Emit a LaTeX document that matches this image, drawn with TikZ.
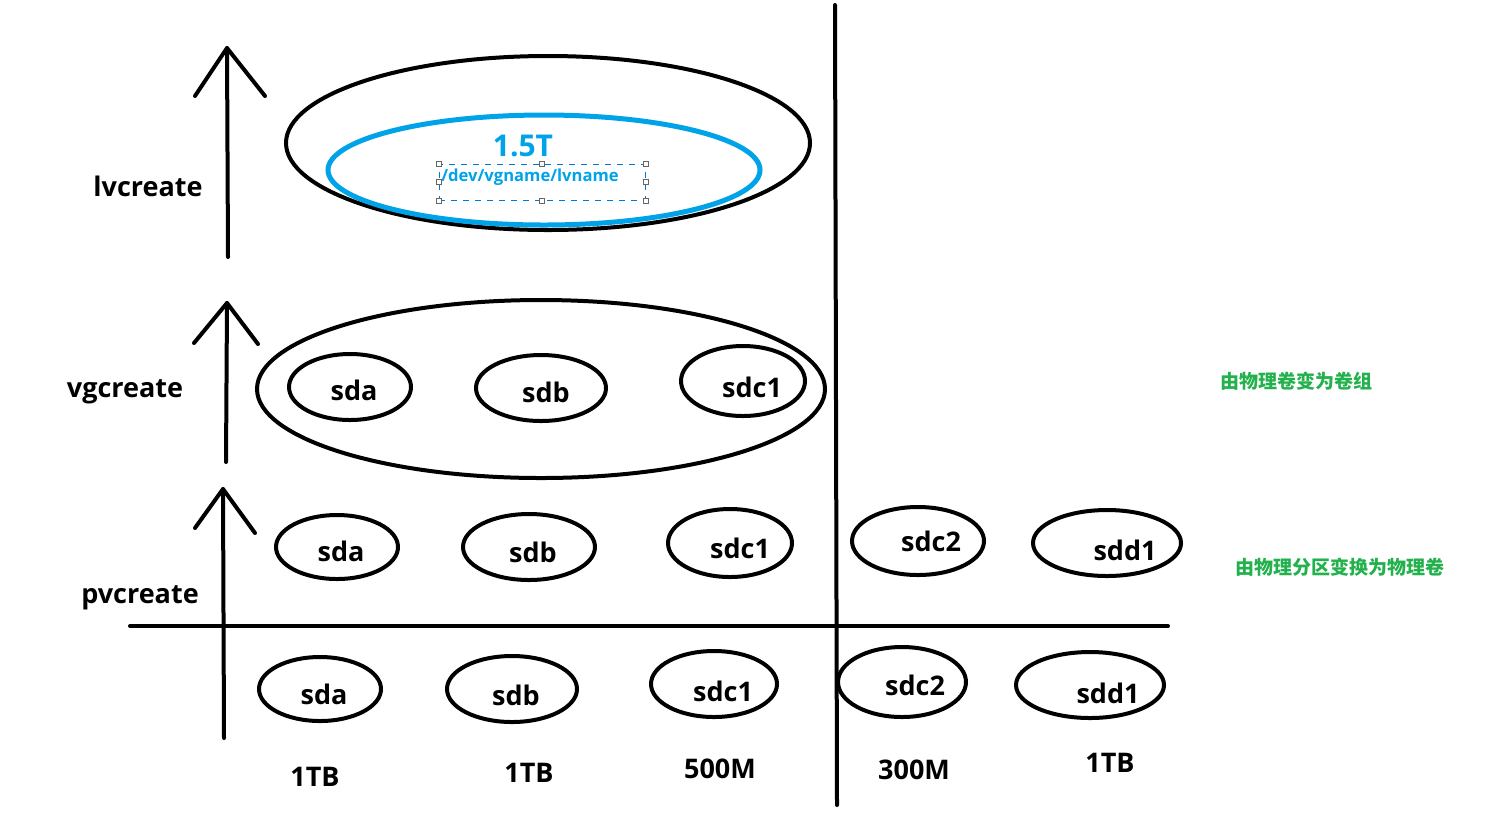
\documentclass[tikz,border=0pt]{standalone}
\usepackage{fontspec}
\setmainfont{Open Sans}
\newfontfamily\cjk{Noto Sans CJK SC}
\usetikzlibrary{shapes.geometric}
\definecolor{paintblue}{RGB}{0,162,232}
\definecolor{paintgreen}{RGB}{34,177,76}
\definecolor{selblue}{RGB}{0,120,215}
\tikzset{
  ln/.style={line width=2pt, line cap=round, line join=round},
  disk/.style={ellipse, draw, line width=2pt, inner sep=0pt},
  lbl/.style={font=\fontsize{13.5}{13.5}\selectfont\bfseries, inner sep=0pt},
  note/.style={font=\cjk\fontsize{9.5}{9.5}\selectfont\bfseries, text=paintgreen},
  handle/.style={draw=gray!80!black, line width=0.5pt, fill=white, minimum size=2.5pt, inner sep=0pt},
}
\begin{document}
\begin{tikzpicture}[x=0.5pt,y=-0.5pt]
\useasboundingbox (0,0) rectangle (1492,816);
% axes
\coordinate (vtop) at (835,5);
\coordinate (vbot) at (837,805);
\draw[ln] (vtop) -- (vbot);
\coordinate (hl) at (130,626);
\coordinate (hr) at (1168,626);
\draw[ln] (hl) -- (hr);
% arrows
\coordinate (a1b) at (228,257); \coordinate (a1t) at (227,48);
\coordinate (a1l) at (195,96); \coordinate (a1r) at (265,96);
\draw[ln] (a1b) -- (a1t); \draw[ln] (a1l) -- (a1t) -- (a1r);
\coordinate (a2b) at (226,462); \coordinate (a2t) at (227,303);
\coordinate (a2l) at (194,343); \coordinate (a2r) at (258,344);
\draw[ln] (a2b) -- (a2t); \draw[ln] (a2l) -- (a2t) -- (a2r);
\coordinate (a3b) at (224,738); \coordinate (a3t) at (223,489);
\coordinate (a3l) at (195,528); \coordinate (a3r) at (255,533);
\draw[ln] (a3b) -- (a3t); \draw[ln] (a3l) -- (a3t) -- (a3r);
% labels
\node[lbl] (lv) at (148,186) {lvcreate};
\node[lbl] (vg) at (125,392) {vgcreate};
\node[lbl] (pv) at (140,598) {pvcreate};
% LV
\node[ellipse, draw, line width=2pt, minimum width=262pt, minimum height=87pt] (lvout) at (548,143) {};
\node[ellipse, draw=paintblue, line width=2.5pt, minimum width=216pt, minimum height=55pt] (lvin) at (544,170) {};
\node[text=paintblue, font=\fontsize{15}{15}\selectfont\bfseries] (size) at (523,146) {1.5T};
\node[draw=selblue, dashed, line width=0.5pt, minimum width=103pt, minimum height=18pt, inner sep=0pt] (sel) at (542,182) {};
\node[text=paintblue, font=\fontsize{8.3}{8.3}\selectfont\bfseries] (path) at (530,177) {/dev/vgname/lvname};
\foreach \p in {north west,north,north east,west,east,south west,south,south east}
  \node[handle] at (sel.\p) {};
% VG
\node[ellipse, draw, line width=2pt, minimum width=284pt, minimum height=89pt] (vgout) at (541,389) {};
\node[disk, minimum width=61pt, minimum height=33pt] (vsda) at (350,387) {};
\node[disk, minimum width=65pt, minimum height=33pt] (vsdb) at (541,388) {};
\node[disk, minimum width=62pt, minimum height=35pt] (vsdc) at (743,381) {};
\node[lbl] (tvsda) at (354,390) {sda};
\node[lbl] (tvsdb) at (546,392) {sdb};
\node[lbl] (tvsdc) at (752,387) {sdc1};
% PV
\node[disk, minimum width=61pt, minimum height=32pt] (psda) at (337,547) {};
\node[disk, minimum width=66pt, minimum height=33pt] (psdb) at (529,547) {};
\node[disk, minimum width=62pt, minimum height=34pt] (psdc1) at (730,543) {};
\node[disk, minimum width=66pt, minimum height=34pt] (psdc2) at (918,541) {};
\node[disk, minimum width=74pt, minimum height=33pt] (psdd1) at (1107,543) {};
\node[lbl] (tpsda) at (341,551) {sda};
\node[lbl] (tpsdb) at (533,552) {sdb};
\node[lbl] (tpsdc1) at (740,548) {sdc1};
\node[lbl] (tpsdc2) at (931,541) {sdc2};
\node[lbl] (tpsdd1) at (1125,550) {sdd1};
% partitions
\node[disk, minimum width=61pt, minimum height=32pt] (sda) at (320,689) {};
\node[disk, minimum width=65pt, minimum height=33pt] (sdb) at (512,689) {};
\node[disk, minimum width=63pt, minimum height=33pt] (sdc1) at (714,684) {};
\node[disk, minimum width=64pt, minimum height=35pt] (sdc2) at (902,682) {};
\node[disk, minimum width=74pt, minimum height=33pt] (sdd1) at (1090,685) {};
\node[lbl] (tsda) at (324,694) {sda};
\node[lbl] (tsdb) at (516,695) {sdb};
\node[lbl] (tsdc1) at (723,691) {sdc1};
\node[lbl] (tsdc2) at (915,685) {sdc2};
\node[lbl] (tsdd1) at (1108,693) {sdd1};
% sizes
\node[lbl] (s1) at (315,777) {1TB};
\node[lbl] (s2) at (529,773) {1TB};
\node[lbl] (s3) at (720,769) {500M};
\node[lbl] (s4) at (914,770) {300M};
\node[lbl] (s5) at (1110,763) {1TB};
% notes
\node[note] (n1) at (1296,381) {由物理卷变为卷组};
\node[note] (n2) at (1340,567) {由物理分区变换为物理卷};
\end{tikzpicture}
\end{document}
